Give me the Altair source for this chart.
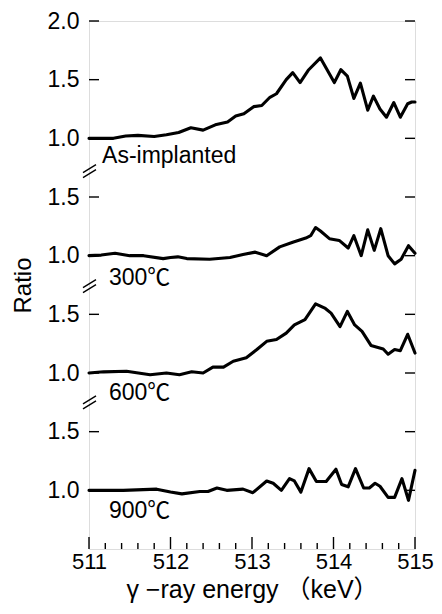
import altair as alt
import pandas as pd

# ---------------- data ----------------
series_names = ["As-implanted", "300℃", "600℃", "900℃"]

energy_asimp = [511.00, 511.15, 511.30, 511.45, 511.60, 511.80, 511.95, 512.10, 512.25, 512.40,
                512.50, 512.55, 512.70, 512.80, 512.90, 513.02, 513.12, 513.22, 513.30, 513.42,
                513.50, 513.59, 513.69, 513.84, 514.01, 514.09, 514.17, 514.25, 514.33, 514.42,
                514.49, 514.57, 514.65, 514.74, 514.82, 514.91, 514.96, 515.00]
ratio_asimp = [1.00, 1.00, 1.00, 1.02, 1.025, 1.015, 1.03, 1.05, 1.09, 1.07,
               1.10, 1.115, 1.14, 1.19, 1.21, 1.27, 1.28, 1.35, 1.38, 1.50,
               1.56, 1.475, 1.58, 1.685, 1.475, 1.585, 1.53, 1.34, 1.47, 1.24,
               1.36, 1.25, 1.18, 1.305, 1.18, 1.295, 1.31, 1.31]

energy_300 = [511.00, 511.15, 511.32, 511.50, 511.67, 511.91, 512.00, 512.09, 512.20, 512.48,
              512.73, 512.89, 513.04, 513.18, 513.34, 513.50, 513.66, 513.72, 513.78, 513.84,
              513.95, 514.07, 514.18, 514.25, 514.34, 514.42, 514.50, 514.58, 514.67, 514.75,
              514.83, 514.92, 515.00]
ratio_300 = [1.00, 1.005, 1.02, 1.00, 1.00, 0.975, 0.985, 0.99, 0.975, 0.97,
             0.985, 1.01, 1.03, 1.00, 1.075, 1.115, 1.15, 1.17, 1.24, 1.21,
             1.145, 1.13, 1.065, 1.17, 1.00, 1.22, 1.045, 1.23, 1.00, 0.93,
             0.97, 1.085, 1.02]

energy_600 = [511.00, 511.18, 511.46, 511.75, 511.95, 512.11, 512.26, 512.40, 512.52, 512.65,
              512.77, 512.93, 513.06, 513.18, 513.30, 513.42, 513.52, 513.65, 513.78, 513.90,
              513.97, 514.08, 514.17, 514.26, 514.35, 514.46, 514.61, 514.67, 514.75, 514.82,
              514.91, 515.00]
ratio_600 = [1.00, 1.01, 1.015, 0.985, 1.00, 0.985, 1.01, 1.00, 1.05, 1.05,
             1.10, 1.13, 1.20, 1.27, 1.285, 1.34, 1.41, 1.455, 1.59, 1.55,
             1.51, 1.395, 1.525, 1.41, 1.355, 1.235, 1.205, 1.16, 1.20, 1.19,
             1.33, 1.17]

energy_900 = [511.00, 511.22, 511.42, 511.83, 512.00, 512.14, 512.36, 512.46, 512.57, 512.69,
              512.89, 513.01, 513.18, 513.26, 513.36, 513.46, 513.52, 513.60, 513.70, 513.79,
              513.91, 514.03, 514.10, 514.18, 514.27, 514.37, 514.44, 514.51, 514.57, 514.67,
              514.75, 514.84, 514.92, 515.00]
ratio_900 = [1.00, 1.00, 1.00, 1.01, 0.985, 0.97, 0.99, 0.99, 1.02, 1.00,
             1.01, 0.98, 1.08, 1.06, 1.00, 1.10, 1.08, 0.985, 1.185, 1.075,
             1.075, 1.18, 1.05, 1.03, 1.185, 1.02, 1.02, 1.06, 1.035, 0.94,
             0.94, 1.10, 0.915, 1.17]

# panel labels (energy, ratio within own panel)
label_energy = [511.16, 511.245, 511.245, 511.245]
label_ratio = [0.85, 0.81, 0.83, 0.82]

# y ticks: (panel index, ratio value, label)
y_tick_panel = [0, 0, 0, 1, 1, 2, 2, 3, 3]
y_tick_ratio = [2.0, 1.5, 1.0, 1.5, 1.0, 1.5, 1.0, 1.5, 1.0]
y_tick_labels = ["2.0", "1.5", "1.0", "1.5", "1.0", "1.5", "1.0", "1.5", "1.0"]

# axis breaks: (panel index, ratio value in that panel)
break_panel = [0, 1, 2]
break_ratio = [0.72, 0.74, 0.75]

x_major = [511, 512, 513, 514, 515]
x_minor = [511.2, 511.4, 511.6, 511.8, 512.2, 512.4, 512.6, 512.8,
           513.2, 513.4, 513.6, 513.8, 514.2, 514.4, 514.6, 514.8]

panel_gap = 1.0  # vertical offset between stacked panels (ratio units)

# ---------------- build tables ----------------
all_e = [energy_asimp, energy_300, energy_600, energy_900]
all_r = [ratio_asimp, ratio_300, ratio_600, ratio_900]
rows = []
for k, (name, es, rs) in enumerate(zip(series_names, all_e, all_r)):
    for e, r in zip(es, rs):
        rows.append({"series": name, "energy": e, "u": r - k * panel_gap})
lines_df = pd.DataFrame(rows)

labels_df = pd.DataFrame({
    "text": series_names,
    "energy": label_energy,
    "u": [r - k * panel_gap for k, r in enumerate(label_ratio)],
})

yt_u = [r - k * panel_gap for k, r in zip(y_tick_panel, y_tick_ratio)]
yticks_df = pd.DataFrame({"u": yt_u})
breaks_df = pd.DataFrame({"u": [r - k * panel_gap for k, r in zip(break_panel, break_ratio)]})
xmaj_df = pd.DataFrame({"energy": x_major})
xmin_df = pd.DataFrame({"energy": x_minor})

def key(v):
    return "%g" % v

label_expr = " : ".join(
    f"abs(datum.value - ({key(u)})) < 0.01 ? '{lab}'" for u, lab in zip(yt_u, y_tick_labels)
) + " : ''"

W, H = 326, 528
FONT = "Liberation Sans, Noto Sans CJK JP"

xscale = alt.Scale(domain=[511, 515], nice=False, zero=False)
yscale = alt.Scale(domain=[-2.5, 2.0], nice=False, zero=False)

xenc = alt.X("energy:Q", scale=xscale,
             axis=alt.Axis(values=x_major, format="d", ticks=False, grid=False, domain=False,
                           labelFlush=False, labelOverlap=False,
                           labelFontSize=22, labelPadding=2, labelColor="black",
                           title="γ −ray energy （keV）", titleFontSize=25,
                           titleFontWeight="normal", titlePadding=5, titleColor="black"))
yenc = alt.Y("u:Q", scale=yscale,
             axis=alt.Axis(values=yt_u, labelExpr=label_expr, ticks=False, grid=False,
                           domain=False, labelFlush=False, labelOverlap=False,
                           labelFontSize=23, labelPadding=10, labelColor="black",
                           title="Ratio", titleFontSize=24, titleFontWeight="normal",
                           titlePadding=12, titleColor="black"))

lines = alt.Chart(lines_df).mark_line(
    color="black", strokeWidth=3.1, strokeJoin="round", strokeCap="round"
).encode(x=xenc, y=yenc, detail="series:N")

labels = alt.Chart(labels_df).mark_text(
    align="left", baseline="middle", fontSize=23, font=FONT, color="black"
).encode(x=alt.X("energy:Q", scale=xscale), y=alt.Y("u:Q", scale=yscale), text="text:N")

left_ticks = alt.Chart(yticks_df).mark_rule(color="black", strokeWidth=1.4).encode(
    x=alt.value(0), x2=alt.value(10), y=alt.Y("u:Q", scale=yscale))
right_ticks = alt.Chart(yticks_df).mark_rule(color="black", strokeWidth=1.4).encode(
    x=alt.value(W - 10), x2=alt.value(W), y=alt.Y("u:Q", scale=yscale))
major_ticks = alt.Chart(xmaj_df).mark_rule(color="black", strokeWidth=1.4).encode(
    x=alt.X("energy:Q", scale=xscale), y=alt.value(H), y2=alt.value(H - 12))
minor_ticks = alt.Chart(xmin_df).mark_rule(color="black", strokeWidth=1.4).encode(
    x=alt.X("energy:Q", scale=xscale), y=alt.value(H), y2=alt.value(H - 6))

break1 = alt.Chart(breaks_df).mark_rule(
    color="black", strokeWidth=1.4, yOffset=1.5, y2Offset=-6.5
).encode(x=alt.value(-6), x2=alt.value(7), y=alt.Y("u:Q", scale=yscale), y2="u:Q")
break2 = alt.Chart(breaks_df).mark_rule(
    color="black", strokeWidth=1.4, yOffset=6.5, y2Offset=-1.5
).encode(x=alt.value(-6), x2=alt.value(7), y=alt.Y("u:Q", scale=yscale), y2="u:Q")

chart = alt.layer(
    lines, labels, left_ticks, right_ticks, major_ticks, minor_ticks, break1, break2
).properties(
    width=W, height=H,
    autosize=alt.AutoSizeParams(type="none"),
    padding={"left": 81, "top": 13, "right": 19, "bottom": 57},
).configure_view(
    stroke="black", strokeWidth=1.6
).configure(
    font=FONT, background="white"
)

chart.save("out.html", embed_options={"renderer": "svg", "actions": False})
